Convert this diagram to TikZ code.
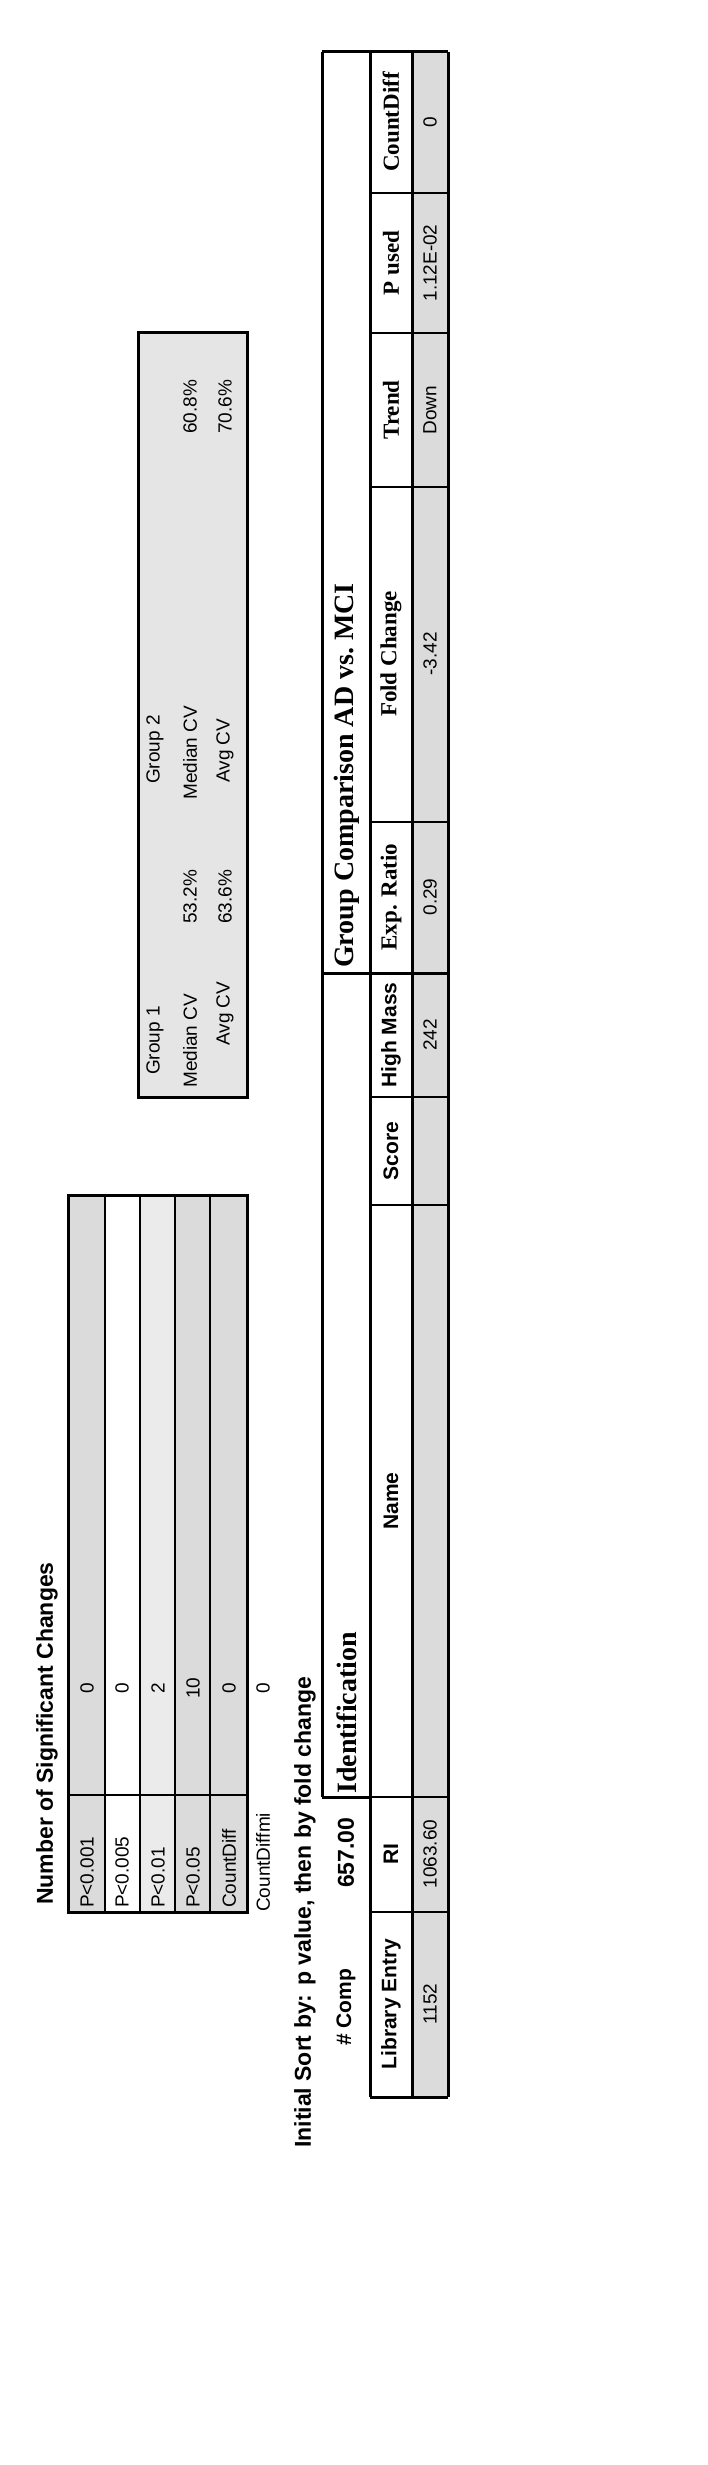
\documentclass[tikz,border=0pt]{standalone}
\usepackage{fontspec}
\setmainfont{Liberation Serif}
\setsansfont{Liberation Sans}
\begin{document}
\begin{tikzpicture}[x=1pt,y=-1pt,
  txt/.style={rotate=90,inner sep=0pt,font=\sffamily\fontsize{19}{19}\selectfont},
  hdr/.style={rotate=90,inner sep=0pt,font=\sffamily\bfseries\fontsize{21}{21}\selectfont},
  ttl/.style={rotate=90,inner sep=0pt,font=\sffamily\bfseries\fontsize{23}{23}\selectfont},
  thd/.style={rotate=90,inner sep=0pt,font=\rmfamily\bfseries\fontsize{23}{23}\selectfont},
  big/.style={rotate=90,inner sep=0pt,font=\rmfamily\bfseries\fontsize{28}{28}\selectfont},
  thick border/.style={line width=3pt},
  thin border/.style={line width=1.6pt},
  shade/.style={fill=black!14}]
\useasboundingbox (0,0) rectangle (708,2465);
\fill[white] (0,0) rectangle (708,2465);

% title
\node[ttl,anchor=west] (title) at (47,1905) {Number of Significant Changes};

% small table
\fill[shade] (68,1195) rectangle (105,1912);
\fill[black!8] (140,1195) rectangle (175,1912);
\fill[shade] (175,1195) rectangle (247,1912);
\draw[thin border] (105,1195) -- (105,1912) (140,1195) -- (140,1912)
  (175,1195) -- (175,1912) (210,1195) -- (210,1912) (68,1795) -- (247,1795);
\draw[thick border] (68,1195) rectangle (247,1912);
\foreach \lab/\val/\x [count=\i] in {P<0.001/0/87,P<0.005/0/122,P<0.01/2/158,P<0.05/10/193,CountDiff/0/229}{
  \node[txt,anchor=west] (sl\i) at (\x,1908) {\lab};
  \node[txt] (sv\i) at (\x,1688) {\val};
}
\node[txt,anchor=west] (cdm) at (263,1912) {CountDiffmi};
\node[txt] (cdmv) at (263,1688) {0};

% group CV box
\fill[black!10] (138,332) rectangle (247,1097);
\draw[thick border] (138,332) rectangle (247,1097);
\node[txt,anchor=west] (g1) at (155,1075) {Group 1};
\node[txt,anchor=west] (g1m) at (190,1088) {Median CV};
\node[txt,anchor=west] (g1a) at (225,1046) {Avg CV};
\node[txt] (g1mv) at (190,897) {53.2\%};
\node[txt] (g1av) at (225,897) {63.6\%};
\node[txt,anchor=west] (g2) at (155,784) {Group 2};
\node[txt,anchor=west] (g2m) at (190,800) {Median CV};
\node[txt,anchor=west] (g2a) at (225,783) {Avg CV};
\node[txt] (g2mv) at (190,407) {60.8\%};
\node[txt] (g2av) at (225,407) {70.6\%};

% sort line
\node[ttl,anchor=west] (sort) at (305,2148) {Initial Sort by: p value, then by fold change};
\node[hdr,anchor=west] (comp) at (346,2046) {\# Comp};
\node[hdr,font=\sffamily\bfseries\fontsize{23}{23}\selectfont,anchor=west] (compv) at (346,1888) {657.00};

% main table
\fill[shade] (412,52) rectangle (448,2097);
\draw[thick border] (322,52) -- (322,1797) (370,52) -- (370,2097)
  (412,52) -- (412,2097) (322,52) -- (448,52) (322,1797) -- (370,1797)
  (370,2097) -- (448,2097) (448,52) -- (448,2097) (322,973) -- (370,973);
\foreach \yy in {1912,1797,1205,1097,973,822,487,333,193}
  \draw[thin border] (370,\yy) -- (448,\yy);
\draw[thick border] (370,973) -- (448,973);
\node[big,anchor=west] (ident) at (347,1794) {Identification};
\node[big,anchor=west] (grp) at (347,968) {Group Comparison AD vs.\ MCI};
\node[hdr] (h1) at (391,2004) {Library Entry};
\node[hdr] (h2) at (391,1854) {RI};
\node[hdr] (h3) at (391,1501) {Name};
\node[hdr] (h4) at (391,1151) {Score};
\node[hdr] (h5) at (391,1035) {High Mass};
\node[thd] (h6) at (391,897) {Exp. Ratio};
\node[thd] (h7) at (391,654) {Fold Change};
\node[thd] (h8) at (391,410) {Trend};
\node[thd] (h9) at (391,263) {P used};
\node[thd] (h10) at (391,122) {CountDiff};
\node[txt] (d1) at (430,2004) {1152};
\node[txt] (d2) at (430,1854) {1063.60};
\node[txt] (d5) at (430,1035) {242};
\node[txt] (d6) at (430,897) {0.29};
\node[txt] (d7) at (430,654) {-3.42};
\node[txt] (d8) at (430,410) {Down};
\node[txt] (d9) at (430,263) {1.12E-02};
\node[txt] (d10) at (430,122) {0};
\end{tikzpicture}
\end{document}
